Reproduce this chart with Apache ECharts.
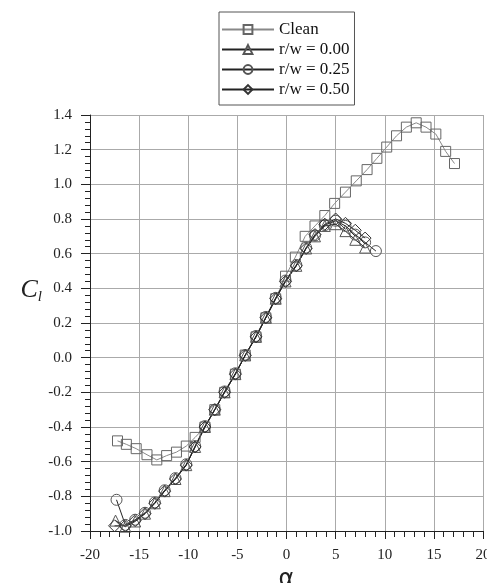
<!DOCTYPE html>
<html>
<head>
<meta charset="utf-8">
<script src="https://cdn.jsdelivr.net/npm/echarts@6/dist/echarts.min.js"></script>
<style>
html,body{margin:0;padding:0;background:#fff;}
#chart{width:487px;height:583px;}
</style>
</head>
<body>
<div id="chart"></div>
<script>
var seriesNames = ['Clean', 'r/w = 0.00', 'r/w = 0.25', 'r/w = 0.50'];

var alphaClean = [-17.2,-16.3,-15.3,-14.2,-13.2,-12.2,-11.2,-10.2,-9.3,-8.3,-7.3,-6.3,-5.2,-4.2,-3.1,-2.1,-1.1,-0.1,0.9,1.9,2.9,3.9,4.9,6.0,7.1,8.2,9.2,10.2,11.2,12.2,13.2,14.2,15.2,16.2,17.1];
var clClean = [-0.48,-0.50,-0.525,-0.56,-0.59,-0.565,-0.545,-0.51,-0.46,-0.40,-0.30,-0.20,-0.095,0.015,0.12,0.23,0.34,0.47,0.58,0.70,0.76,0.82,0.89,0.955,1.02,1.085,1.15,1.215,1.28,1.33,1.355,1.33,1.29,1.19,1.12];

var alphaR000 = [-17.4,-16.4,-15.4,-14.4,-13.4,-12.4,-11.3,-10.2,-9.3,-8.3,-7.3,-6.3,-5.2,-4.2,-3.1,-2.1,-1.1,-0.1,1.0,2.0,2.9,3.9,5.0,6.0,7.0,8.0];
var clR000 = [-0.94,-0.975,-0.945,-0.90,-0.84,-0.77,-0.70,-0.62,-0.515,-0.40,-0.30,-0.20,-0.095,0.013,0.12,0.23,0.34,0.44,0.53,0.63,0.70,0.76,0.77,0.73,0.68,0.635];

var alphaR025 = [-17.3,-16.4,-15.4,-14.4,-13.4,-12.4,-11.3,-10.2,-9.3,-8.3,-7.3,-6.3,-5.2,-4.2,-3.1,-2.1,-1.1,-0.1,1.0,2.0,2.9,3.9,5.0,6.0,7.0,8.0,9.1];
var clR025 = [-0.82,-0.965,-0.935,-0.895,-0.835,-0.765,-0.695,-0.615,-0.51,-0.395,-0.30,-0.195,-0.09,0.015,0.125,0.235,0.345,0.445,0.535,0.635,0.705,0.765,0.79,0.76,0.71,0.665,0.615];

var alphaR050 = [-17.5,-16.4,-15.4,-14.4,-13.4,-12.4,-11.3,-10.2,-9.3,-8.3,-7.3,-6.3,-5.2,-4.2,-3.1,-2.1,-1.1,-0.1,1.0,2.0,2.9,3.9,5.0,6.0,7.0,8.0];
var clR050 = [-0.97,-0.97,-0.94,-0.90,-0.84,-0.77,-0.70,-0.62,-0.515,-0.40,-0.30,-0.20,-0.095,0.013,0.12,0.23,0.34,0.44,0.53,0.63,0.71,0.77,0.80,0.775,0.735,0.69];

var xTicks = [-20, -15, -10, -5, 0, 5, 10, 15, 20];
var yTicks = [-1.0, -0.8, -0.6, -0.4, -0.2, 0.0, 0.2, 0.4, 0.6, 0.8, 1.0, 1.2, 1.4];

function pairs(xs, ys) { return xs.map(function (x, i) { return [x, ys[i]]; }); }

var serif = 'Liberation Serif';
var chart = echarts.init(document.getElementById('chart'), null, {renderer: 'canvas'});

function mk(name, xs, ys, symbol, size, mcol, lcol) {
  return {
    name: name, type: 'line', data: pairs(xs, ys),
    symbol: symbol, symbolSize: size, showAllSymbol: true,
    itemStyle: {color: 'rgba(255,255,255,0)', borderColor: mcol, borderWidth: 1},
    lineStyle: {color: lcol, width: 1},
    emphasis: {disabled: true}
  };
}

chart.setOption({
  animation: false,
  backgroundColor: '#fff',
  grid: {left: 90, right: 4, top: 115, bottom: 52, outerBoundsMode: 'none', containLabel: false},
  legend: {
    data: seriesNames,
    orient: 'vertical',
    left: 219, top: 12,
    itemWidth: 52, itemHeight: 11, itemGap: 3,
    padding: [9, 5, 7, 2],
    borderColor: '#555', borderWidth: 1,
    textStyle: {fontFamily: serif, fontSize: 17, color: '#111'}
  },
  xAxis: {
    type: 'value', min: -20, max: 20, interval: 5,
    axisLine: {onZero: false, lineStyle: {color: '#222', width: 1}},
    axisTick: {inside: false, length: 8, lineStyle: {color: '#222'}},
    minorTick: {show: true, splitNumber: 5, length: 6, lineStyle: {color: '#222'}},
    splitLine: {show: true, lineStyle: {color: '#aaa', width: 1}},
    axisLabel: {fontFamily: serif, fontSize: 15, color: '#222', margin: 17,
      formatter: function (v) { return xTicks.indexOf(v) >= 0 ? String(v) : ''; }},
    name: 'α', nameLocation: 'middle', nameGap: 26,
    nameTextStyle: {fontFamily: 'DejaVu Sans', fontSize: 24, color: '#222'}
  },
  yAxis: {
    type: 'value', min: -1.0, max: 1.4, interval: 0.2,
    axisLine: {onZero: false, lineStyle: {color: '#222', width: 1}},
    axisTick: {inside: false, length: 9, lineStyle: {color: '#222'}},
    minorTick: {show: true, splitNumber: 5, length: 5, lineStyle: {color: '#222'}},
    splitLine: {show: true, lineStyle: {color: '#aaa', width: 1}},
    axisLabel: {fontFamily: serif, fontSize: 15, color: '#222', margin: 18,
      formatter: function (v) { return v.toFixed(1); }},
    name: '{c|C}{s|l}', nameLocation: 'middle', nameGap: 48, nameRotate: 0,
    nameTextStyle: {
      padding: [0, 0, 66, 0],
      rich: {
        c: {fontFamily: serif, fontStyle: 'italic', fontSize: 26, color: '#222'},
        s: {fontFamily: serif, fontStyle: 'italic', fontSize: 15, color: '#222', padding: [14, 0, 0, 0]}
      }
    }
  },
  series: [
    mk(seriesNames[0], alphaClean, clClean, 'rect', 10, '#666', '#888'),
    mk(seriesNames[1], alphaR000, clR000, 'triangle', 11, '#555', '#222'),
    mk(seriesNames[2], alphaR025, clR025, 'circle', 11, '#555', '#222'),
    mk(seriesNames[3], alphaR050, clR050, 'diamond', 12, '#333', '#222')
  ]
});
</script>
</body>
</html>
